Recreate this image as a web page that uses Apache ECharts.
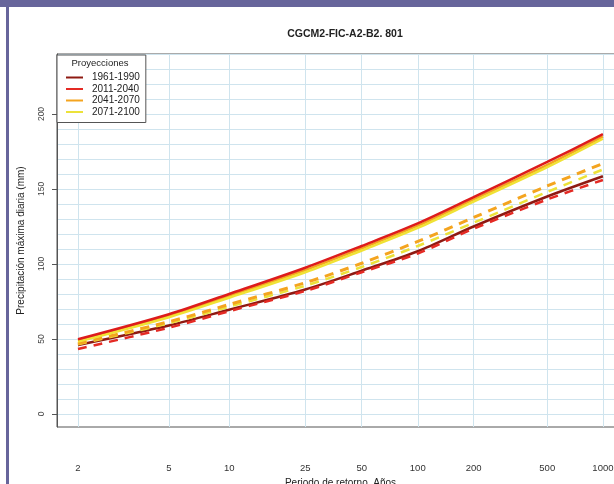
<!DOCTYPE html>
<html>
<head>
<meta charset="utf-8">
<script src="https://cdn.jsdelivr.net/npm/echarts@6/dist/echarts.min.js"></script>
<style>
  html, body { margin: 0; padding: 0; background: #ffffff; }
  #chart { width: 614px; height: 484px; }
</style>
</head>
<body>
<div id="chart"></div>
<script>
// Return periods (years) and tick labels
const periods = [2, 5, 10, 25, 50, 100, 200, 500, 1000];
const tickLabels = ['2', '5', '10', '25', '50', '100', '200', '500', '1000'];
const yTicks = [0, 50, 100, 150, 200];
const yGrid = [0, 10, 20, 30, 40, 50, 60, 70, 80, 90, 100, 110, 120, 130, 140, 150, 160, 170, 180, 190, 200, 210, 220, 230, 240];

// Legend entries
const legendNames = ['1961-1990', '2011-2040', '2041-2070', '2071-2100'];

// Series values (mm) read at each return period
const ctl_1961_1990 = [46.0, 59.0, 69.5, 83.0, 95.5, 108.5, 125.0, 145.0, 158.5];
const a2_2011_2040 = [49.8, 66.5, 80.0, 97.5, 112.0, 127.0, 144.5, 168.0, 186.5];
const b2_2011_2040 = [43.3, 57.5, 68.5, 82.0, 94.5, 107.0, 123.5, 143.0, 156.0];
const a2_2041_2070 = [49.0, 65.5, 78.8, 96.0, 110.5, 125.5, 143.0, 166.0, 185.0];
const b2_2041_2070 = [47.0, 61.5, 73.0, 87.5, 100.5, 115.0, 131.0, 152.0, 167.0];
const a2_2071_2100 = [48.2, 64.5, 77.5, 94.5, 109.0, 124.0, 141.5, 164.5, 183.5];
const b2_2071_2100 = [46.5, 60.5, 71.5, 85.5, 98.0, 112.0, 127.5, 148.0, 163.0];

// Gumbel reduced variate for the return-period axis
const gumbel = T => -Math.log(-Math.log(1 - 1 / T));
const xPos = periods.map(gumbel);
const pairs = vals => vals.map((v, i) => [xPos[i], v]);

const FONT = '"Liberation Sans", Arial, sans-serif';

const mk = (name, vals, color, dashed, width, z) => ({
  name: name,
  type: 'line',
  data: pairs(vals),
  smooth: 0.3,
  showSymbol: false,
  symbol: 'none',
  color: color,
  z: z,
  lineStyle: { color: color, width: width, type: dashed ? [9, 7] : 'solid' },
  emphasis: { disabled: true }
});

const chart = echarts.init(document.getElementById('chart'), null, { renderer: 'canvas' });
chart.setOption({
  animation: false,
  backgroundColor: '#ffffff',
  title: {
    text: 'CGCM2-FIC-A2-B2. 801',
    left: 340, top: 24, textAlign: 'center',
    textStyle: { fontFamily: FONT, fontSize: 10.5, fontWeight: 'bold', color: '#222' }
  },
  grid: {
    left: 57, top: 54, right: -10, bottom: 57,
    outerBoundsMode: 'none', containLabel: false,
    show: true, borderColor: '#555', borderWidth: 1, backgroundColor: 'transparent'
  },
  legend: {
    data: legendNames,
    orient: 'vertical',
    left: 57, top: 55,
    icon: 'rect',
    itemWidth: 17, itemHeight: 2, itemGap: 0.5,
    padding: [17, 6, 5, 9],
    backgroundColor: '#ffffff',
    borderColor: '#555', borderWidth: 1, borderRadius: 0,
    selectedMode: false,
    textStyle: { fontFamily: FONT, fontSize: 10, color: '#222', lineHeight: 11, padding: [0, 0, 0, 4] },
    z: 10
  },
  graphic: [
    { type: 'rect', shape: { x: 0, y: 0, width: 614, height: 7 }, style: { fill: '#67659b' }, z: 100 },
    { type: 'rect', shape: { x: 6, y: 0, width: 3, height: 484 }, style: { fill: '#67659b' }, z: 100 },
    { type: 'text', x: 100, y: 63, z: 100,
      style: { text: 'Proyecciones', fontFamily: FONT, fontSize: 9.5, fill: '#222', textAlign: 'center', textVerticalAlign: 'middle' } }
  ],
  xAxis: {
    type: 'value',
    min: 0.105, max: 7.17,
    name: 'Periodo de retorno. Años',
    nameLocation: 'middle', nameGap: 43,
    nameTextStyle: { fontFamily: FONT, fontSize: 10, color: '#222' },
    axisLine: { show: false },
    axisTick: { show: false, customValues: xPos },
    axisLabel: {
      customValues: xPos, margin: 36,
      fontFamily: FONT, fontSize: 9.5, color: '#333',
      formatter: v => {
        let best = 0;
        xPos.forEach((p, i) => { if (Math.abs(p - v) < Math.abs(xPos[best] - v)) best = i; });
        return tickLabels[best];
      }
    },
    splitLine: { show: true, lineStyle: { color: '#cfe4ee', width: 1 } }
  },
  yAxis: [
    {
      type: 'value',
      min: -8.7, max: 240,
      name: 'Precipitación máxima diaria (mm)',
      nameLocation: 'middle', nameGap: 31,
      nameTextStyle: { fontFamily: FONT, fontSize: 10, color: '#222' },
      axisLine: { show: true, lineStyle: { color: '#555' } },
      axisTick: { show: true, customValues: yTicks, length: 5, lineStyle: { color: '#555' } },
      axisLabel: { customValues: yTicks, rotate: 90, margin: 11, fontFamily: FONT, fontSize: 8.5, color: '#444' },
      splitLine: { show: false }
    },
    {
      type: 'value',
      min: -8.7, max: 240,
      position: 'left',
      axisLine: { show: false },
      axisTick: { show: false, customValues: yGrid },
      axisLabel: { show: false, customValues: yGrid },
      splitLine: { show: true, lineStyle: { color: '#cfe4ee', width: 1 } }
    }
  ],
  series: [
    mk('1961-1990', ctl_1961_1990, '#8e1a12', false, 2.5, 2),
    mk('2071-2100', b2_2071_2100, '#ece23a', true, 2.5, 3),
    mk('2041-2070', b2_2041_2070, '#f4a41f', true, 3, 4),
    mk('2011-2040', b2_2011_2040, '#e42a24', true, 2.5, 5),
    mk('2041-2070', a2_2041_2070, '#f4a41f', false, 2.5, 6),
    mk('2071-2100', a2_2071_2100, '#f0e235', false, 2.5, 7),
    mk('2011-2040', a2_2011_2040, '#dd1c1c', false, 2.5, 8)
  ]
});
</script>
</body>
</html>
